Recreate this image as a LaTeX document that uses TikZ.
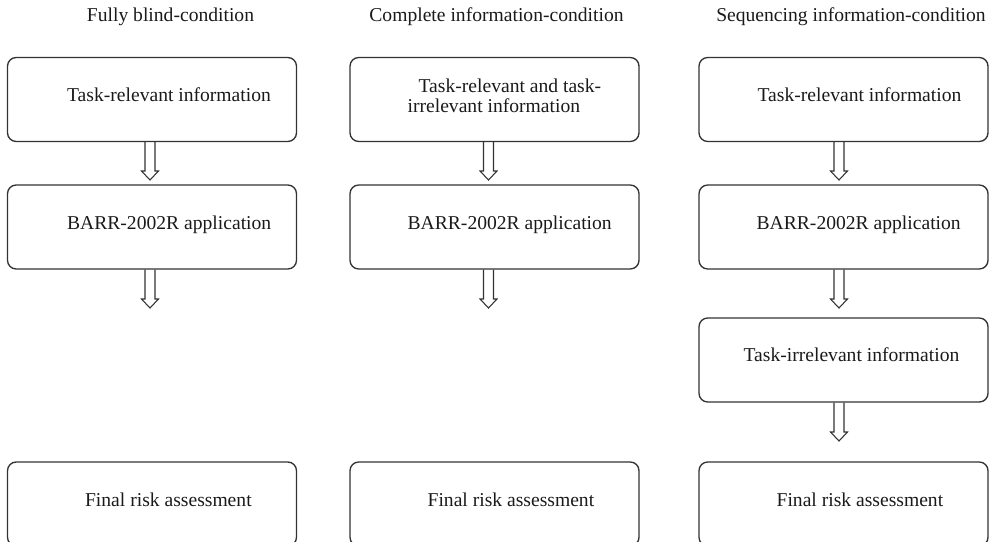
\documentclass[tikz,border=0pt]{standalone}
\usepackage{fontspec}
\setmainfont{Liberation Serif}
\usetikzlibrary{calc}
\definecolor{linec}{HTML}{333333}
\definecolor{textc}{HTML}{1A1A1A}
\tikzset{
  box/.style={draw=linec, line width=1pt, rounded corners=6.5pt, minimum width=216.75pt, minimum height=63pt, inner sep=0pt},
  lbl/.style={anchor=base west, inner sep=0pt, text=textc, font=\fontsize{14.7}{15}\selectfont},
  ttl/.style={anchor=base, inner sep=0pt, text=textc, font=\fontsize{14.7}{15}\selectfont},
  harrow/.style={draw=linec, line width=0.8pt, line join=miter}
}
\newcommand{\hollowarrow}[2]{%
  \path[harrow] let \p1=(#1.south), \p2=(#2) in
    (\x2-3.75pt,\y1) -- (\x2-3.75pt,\y2+6.75pt) -- (\x2-6.375pt,\y2+6.75pt) -- (\x2,\y2)
    -- (\x2+6.375pt,\y2+6.75pt) -- (\x2+3.75pt,\y2+6.75pt) -- (\x2+3.75pt,\y1);}
\begin{document}
\begin{tikzpicture}[x=0.75pt, y=-0.75pt]
\useasboundingbox (0,0) rectangle (989,542);
\clip (0,0) rectangle (989,542);
% titles
\node[ttl] (h1) at (170.5,22) {Fully blind-condition};
\node[ttl] (h2) at (496.5,22) {Complete information-condition};
\node[ttl] (h3) at (851,22) {Sequencing information-condition};
% column 1
\node[box] (a1) at (152,99.5) {};
\node[box] (a2) at (152,227) {};
\node[box] (a4) at (152,504) {};
\node[lbl] (ta1) at ($(a1.north west)+(60,45)$) {Task-relevant information};
\node[lbl] (ta2) at ($(a2.north west)+(60,45)$) {BARR-2002R application};
\node[lbl] (ta4) at ($(a4.north west)+(78,45)$) {Final risk assessment};
% column 2
\node[box] (b1) at (494.5,99.5) {};
\node[box] (b2) at (494.5,227) {};
\node[box] (b4) at (494.5,504) {};
\node[lbl, align=left] (tb1) at ($(b1.north west)+(58,56)$) {\hspace*{8.25pt}Task-relevant and task-\\irrelevant information};
\node[lbl] (tb2) at ($(b2.north west)+(58,45)$) {BARR-2002R application};
\node[lbl] (tb4) at ($(b4.north west)+(78,45)$) {Final risk assessment};
% column 3
\node[box] (c1) at (843.5,99.5) {};
\node[box] (c2) at (843.5,227) {};
\node[box] (c3) at (843.5,360) {};
\node[box] (c4) at (843.5,504) {};
\node[lbl] (tc1) at ($(c1.north west)+(59,45)$) {Task-relevant information};
\node[lbl] (tc2) at ($(c2.north west)+(58,45)$) {BARR-2002R application};
\node[lbl] (tc3) at ($(c3.north west)+(45,44)$) {Task-irrelevant information};
\node[lbl] (tc4) at ($(c4.north west)+(78,45)$) {Final risk assessment};
% arrow tips
\coordinate (pa1) at (150,180);
\coordinate (pa2) at (150,308);
\coordinate (pb1) at (488.5,180);
\coordinate (pb2) at (488.5,308);
\coordinate (pc1) at (839,180);
\coordinate (pc2) at (839,308);
\coordinate (pc3) at (839,441);
\hollowarrow{a1}{pa1}
\hollowarrow{a2}{pa2}
\hollowarrow{b1}{pb1}
\hollowarrow{b2}{pb2}
\hollowarrow{c1}{pc1}
\hollowarrow{c2}{pc2}
\hollowarrow{c3}{pc3}
\end{tikzpicture}
\end{document}
